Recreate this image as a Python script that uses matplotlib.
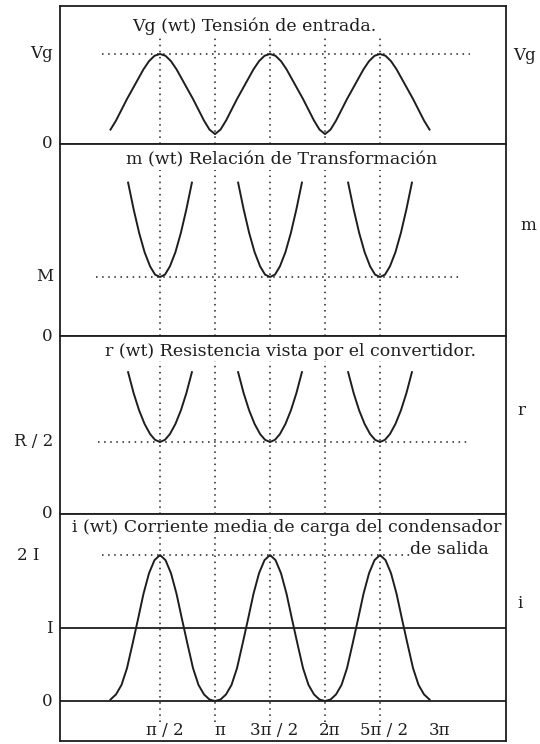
import matplotlib
matplotlib.use("Agg")
import matplotlib.pyplot as plt

# x positions are in units of pi
hump_centers = [0.5, 1.5, 2.5]
xtick_pos = [0.5, 1.0, 1.5, 2.0, 2.5, 3.0]
xtick_labels = ["π / 2", "π", "3π / 2", "2π", "5π / 2", "3π"]
grid_pos = [0.5, 1.0, 1.5, 2.0, 2.5]

# Vg(wt): one rectified half wave, offsets from its centre
vg_offsets = [-0.50, -0.45, -0.40, -0.35, -0.30, -0.25, -0.20, -0.15, -0.10, -0.05, 0.0,
              0.05, 0.10, 0.15, 0.20, 0.25, 0.30, 0.35, 0.40, 0.45, 0.50]
vg_values = [0.11, 0.16, 0.26, 0.38, 0.50, 0.61, 0.72, 0.83, 0.92, 0.98, 1.00,
             0.98, 0.92, 0.83, 0.72, 0.61, 0.50, 0.38, 0.26, 0.16, 0.11]

# m(wt) / M
m_offsets = [-0.29, -0.24, -0.19, -0.14, -0.09, -0.045, 0.0, 0.045, 0.09, 0.14, 0.19, 0.24, 0.29]
m_values = [2.60, 2.15, 1.75, 1.42, 1.18, 1.04, 1.00, 1.04, 1.18, 1.42, 1.75, 2.15, 2.60]

# r(wt) / (R/2)
r_offsets = [-0.29, -0.24, -0.19, -0.14, -0.09, -0.045, 0.0, 0.045, 0.09, 0.14, 0.19, 0.24, 0.29]
r_values = [1.97, 1.68, 1.44, 1.25, 1.11, 1.03, 1.00, 1.03, 1.11, 1.25, 1.44, 1.68, 1.97]

# i(wt) / I
i_offsets = [-0.50, -0.45, -0.40, -0.35, -0.30, -0.25, -0.20, -0.15, -0.10, -0.05, 0.0,
             0.05, 0.10, 0.15, 0.20, 0.25, 0.30, 0.35, 0.40, 0.45, 0.50]
i_values = [0.00, 0.02, 0.09, 0.22, 0.45, 0.78, 1.12, 1.47, 1.75, 1.93, 2.00,
            1.93, 1.75, 1.47, 1.12, 0.78, 0.45, 0.22, 0.09, 0.02, 0.00]

plt.rcParams['font.family'] = ['DejaVu Serif']
INK = '#1e1e1e'
DOT = (0, (1, 3))
FS = 12
TFS = 12.5

W, H = 540, 744
L, R = 60, 506
fig = plt.figure(figsize=(W / 100, H / 100), dpi=100)
fig.patch.set_facecolor('white')


def make_axes(top, bot, ylim):
    ax = fig.add_axes([L / W, 1 - bot / H, (R - L) / W, (bot - top) / H])
    ax.set_xlim(-0.409, 3.645)
    ax.set_ylim(*ylim)
    ax.set_xticks([])
    ax.set_yticks([])
    for s in ax.spines.values():
        s.set_linewidth(1.3)
        s.set_color(INK)
    return ax


def left_label(ax, y, txt, dx=-0.016):
    ax.text(dx, y, txt, transform=ax.get_yaxis_transform(), ha='right', va='center',
            fontsize=FS, color=INK)


def right_label(x, y, txt):
    fig.text(x / W, 1 - y / H, txt, ha='left', va='center', fontsize=FS, color=INK)


def joined(centers, offsets, values):
    # humps share their end points; the outer ends are dropped like in the drawing
    xs, ys = [], []
    for c in centers:
        xs += [c + o for o in offsets]
        ys += list(values)
    return xs[1:-1], ys[1:-1]


# 1. Input voltage
ax1 = make_axes(6, 144, (0, 1.533))
ax1.vlines(grid_pos, 0, 1.2, colors=INK, linestyles=DOT, lw=1.1)
ax1.hlines(1, -0.027, 3.318, colors=INK, linestyles=DOT, lw=1.1)
x, y = joined(hump_centers, vg_offsets, vg_values)
ax1.plot(x, y, color=INK, lw=1.4)
ax1.text(1.355, 1.31, "Vg (wt) Tensión de entrada.", ha='center', va='center', fontsize=TFS, color=INK)
left_label(ax1, 1, "Vg")
left_label(ax1, 0, "0")
right_label(513, 55, "Vg")

# 2. Transformation ratio
ax2 = make_axes(144, 336, (0, 3.254))
ax2.vlines(grid_pos, 0, 2.81, colors=INK, linestyles=DOT, lw=1.1)
ax2.hlines(1, -0.082, 3.236, colors=INK, linestyles=DOT, lw=1.1)
for c in hump_centers:
    ax2.plot([c + o for o in m_offsets], m_values, color=INK, lw=1.4)
ax2.text(1.605, 2.99, "m (wt) Relación de Transformación", ha='center', va='center', fontsize=TFS, color=INK)
left_label(ax2, 1, "M")
left_label(ax2, 0, "0")
right_label(520, 226, "m")

# 3. Resistance seen by the converter
ax3 = make_axes(336, 514, (0, 2.472))
ax3.vlines(grid_pos, 0, 2.125, colors=INK, linestyles=DOT, lw=1.1)
ax3.hlines(1, -0.064, 3.29, colors=INK, linestyles=DOT, lw=1.1)
for c in hump_centers:
    ax3.plot([c + o for o in r_offsets], r_values, color=INK, lw=1.4)
ax3.text(1.6865, 2.26, "r (wt) Resistencia vista por el convertidor.", ha='center', va='center', fontsize=TFS, color=INK)
left_label(ax3, 1, "R / 2")
left_label(ax3, 0, "0")
right_label(517, 411, "r")

# 4. Average output capacitor charging current
ax4 = make_axes(514, 741, (-0.548, 2.562))
ax4.vlines(grid_pos, -0.29, 2.31, colors=INK, linestyles=DOT, lw=1.1)
ax4.hlines(2, -0.027, 2.8, colors=INK, linestyles=DOT, lw=1.1)
ax4.axhline(1, color=INK, lw=1.3)
ax4.axhline(0, color=INK, lw=1.3)
x, y = joined(hump_centers, i_offsets, i_values)
ax4.plot(x, y, color=INK, lw=1.4)
ax4.text(1.65, 2.38, "i (wt) Corriente media de carga del condensador", ha='center', va='center', fontsize=TFS, color=INK)
ax4.text(3.49, 2.08, "de salida", ha='right', va='center', fontsize=TFS, color=INK)
for p, lab in zip(xtick_pos, xtick_labels):
    ax4.text(p + 0.04, -0.40, lab, ha='center', va='center', fontsize=FS, color=INK)
left_label(ax4, 2, "2 I", dx=-0.047)
left_label(ax4, 1, "I")
left_label(ax4, 0, "0")
right_label(517, 603, "i")

fig.savefig("out.png", dpi=100)
